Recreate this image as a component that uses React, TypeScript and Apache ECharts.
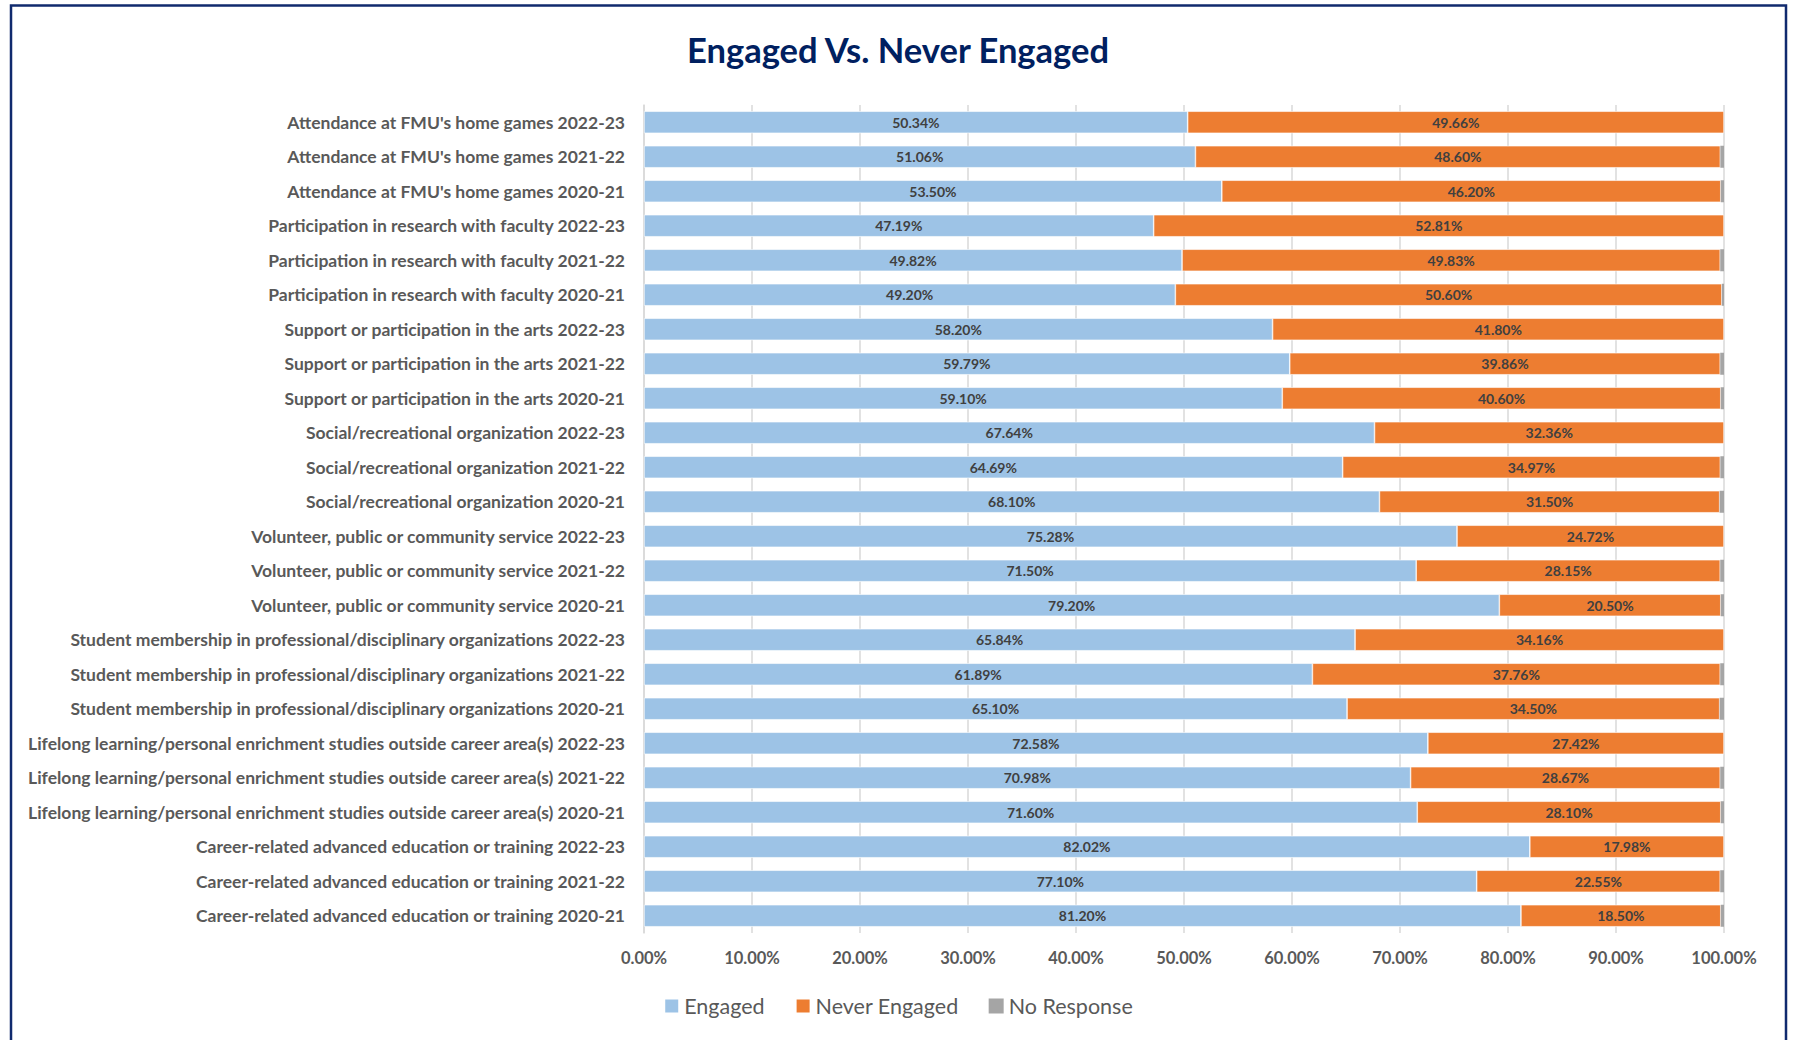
import React, { useEffect, useRef } from "react";
import * as echarts from "echarts";

const categories = [
  "Attendance at FMU's home games 2022-23",
  "Attendance at FMU's home games 2021-22",
  "Attendance at FMU's home games 2020-21",
  "Participation in research with faculty 2022-23",
  "Participation in research with faculty 2021-22",
  "Participation in research with faculty 2020-21",
  "Support or participation in the arts 2022-23",
  "Support or participation in the arts 2021-22",
  "Support or participation in the arts 2020-21",
  "Social/recreational organization 2022-23",
  "Social/recreational organization 2021-22",
  "Social/recreational organization 2020-21",
  "Volunteer, public or community service 2022-23",
  "Volunteer, public or community service 2021-22",
  "Volunteer, public or community service 2020-21",
  "Student membership in professional/disciplinary organizations 2022-23",
  "Student membership in professional/disciplinary organizations 2021-22",
  "Student membership in professional/disciplinary organizations 2020-21",
  "Lifelong learning/personal enrichment studies outside career area(s) 2022-23",
  "Lifelong learning/personal enrichment studies outside career area(s) 2021-22",
  "Lifelong learning/personal enrichment studies outside career area(s) 2020-21",
  "Career-related advanced education or training 2022-23",
  "Career-related advanced education or training 2021-22",
  "Career-related advanced education or training 2020-21",
];

const engaged = [
  50.34, 51.06, 53.5, 47.19, 49.82, 49.2, 58.2, 59.79, 59.1, 67.64, 64.69, 68.1,
  75.28, 71.5, 79.2, 65.84, 61.89, 65.1, 72.58, 70.98, 71.6, 82.02, 77.1, 81.2,
];

const neverEngaged = [
  49.66, 48.6, 46.2, 52.81, 49.83, 50.6, 41.8, 39.86, 40.6, 32.36, 34.97, 31.5,
  24.72, 28.15, 20.5, 34.16, 37.76, 34.5, 27.42, 28.67, 28.1, 17.98, 22.55, 18.5,
];

const noResponse = [
  0, 0.34, 0.3, 0, 0.35, 0.2, 0, 0.35, 0.3, 0, 0.34, 0.4,
  0, 0.35, 0.3, 0, 0.35, 0.4, 0, 0.35, 0.3, 0, 0.35, 0.3,
];

const xTicks = { min: 0, max: 100, interval: 10 };

const FONT = "Lato";

export default function App() {
  const ref = useRef<HTMLDivElement>(null);
  useEffect(() => {
    if (!ref.current) return;
    const chart = echarts.init(ref.current, null, { renderer: "svg" });
    const labelStyle = {
      show: true,
      position: "inside" as const,
      color: "#404040",
      fontFamily: FONT,
      fontWeight: "bold" as const,
      fontSize: 14,
      formatter: (p: any) => Number(p.value).toFixed(2) + "%",
    };
    chart.setOption({
      animation: false,
      backgroundColor: "#ffffff",
      title: {
        text: "Engaged Vs. Never Engaged",
        left: "center",
        top: 27,
        textStyle: {
          color: "#002060",
          fontFamily: FONT,
          fontWeight: "bold",
          fontSize: 34.5,
        },
      },
      graphic: [
        {
          type: "rect",
          shape: { x: 11, y: 5.5, width: 1775, height: 1060 },
          style: { fill: "none", stroke: "#102A6E", lineWidth: 2.5 },
          silent: true,
        },
      ],
      legend: {
        bottom: 18,
        left: "center",
        itemWidth: 15,
        itemHeight: 15,
        itemGap: 30,
        icon: "rect",
        textStyle: { color: "#595959", fontFamily: FONT, fontSize: 21.5 },
        data: ["Engaged", "Never Engaged", "No Response"],
      },
      grid: { left: 644, right: 72, top: 105, bottom: 107, containLabel: false },
      xAxis: {
        type: "value",
        min: xTicks.min,
        max: xTicks.max,
        interval: xTicks.interval,
        axisLine: { show: false },
        axisTick: { show: false },
        splitLine: { show: true, lineStyle: { color: "#D9D9D9", width: 1.5 } },
        axisLabel: {
          color: "#595959",
          fontFamily: FONT,
          fontWeight: "bold",
          fontSize: 16.5,
          margin: 16,
          formatter: (v: number) => v.toFixed(2) + "%",
        },
      },
      yAxis: {
        type: "category",
        inverse: true,
        data: categories,
        axisLine: { show: true, lineStyle: { color: "#D9D9D9", width: 1.5 } },
        axisTick: { show: false },
        axisLabel: {
          color: "#595959",
          fontFamily: FONT,
          fontWeight: "bold",
          fontSize: 17.5,
          margin: 19,
        },
      },
      series: [
        {
          name: "Engaged",
          type: "bar",
          stack: "total",
          barWidth: 22,
          data: engaged,
          itemStyle: { color: "#9DC3E6", borderColor: "#ffffff", borderWidth: 0.6 },
          label: labelStyle,
        },
        {
          name: "Never Engaged",
          type: "bar",
          stack: "total",
          barWidth: 22,
          data: neverEngaged,
          itemStyle: { color: "#ED7D31", borderColor: "#ffffff", borderWidth: 0.6 },
          label: labelStyle,
        },
        {
          name: "No Response",
          type: "bar",
          stack: "total",
          barWidth: 22,
          data: noResponse,
          itemStyle: { color: "#A5A5A5" },
          label: { show: false },
        },
      ],
    });
    return () => chart.dispose();
  }, []);
  return (
    <div
      ref={ref}
      style={{ position: "fixed", left: 0, top: 0, width: 1796, height: 1040 }}
    />
  );
}
